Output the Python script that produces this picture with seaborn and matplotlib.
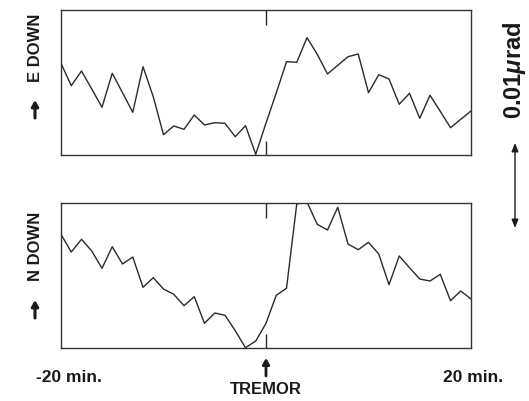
import matplotlib
matplotlib.use("Agg")
import matplotlib.pyplot as plt
from matplotlib.patches import FancyArrowPatch
import pandas as pd
import seaborn as sns

# minutes relative to the tremor, one reading per minute
minutes = list(range(-20, 21))

# tilt readings (arbitrary units)
e_down = [91.7, 69.3, 84.0, 66.0, 47.7, 81.7, 62.3, 42.7, 88.3, 58.3,
          20.3, 29.0, 25.7, 40.0, 30.0, 32.3, 31.7, 18.3, 29.3, 0.7,
          32.0, 62.0, 93.3, 92.7, 117.3, 100.7, 81.0, 89.7, 98.3, 101.0,
          62.3, 80.3, 76.0, 50.7, 61.7, 36.7, 59.7, 43.7, 27.3, 35.7, 44.0]
n_down = [113.7, 96.0, 108.7, 97.0, 79.7, 101.3, 84.0, 91.0, 60.7, 70.3,
          59.0, 53.7, 42.3, 51.3, 24.7, 35.0, 32.7, 17.3, 0.3, 7.0,
          24.7, 52.7, 59.7, 144.0, 146.0, 123.7, 118.0, 140.7, 104.0, 98.3,
          105.7, 94.0, 63.3, 92.0, 80.3, 69.0, 67.0, 73.7, 47.3, 57.0, 49.0]

panel_labels = ["E DOWN", "N DOWN"]
scale_label = r"0.01$\mathit{\mu}$rad"
x_labels = ["-20 min.", "TREMOR", "20 min."]

sns.set_style("white")
plt.rcParams["font.family"] = ["Liberation Sans", "DejaVu Sans"]
plt.rcParams["font.weight"] = "bold"
plt.rcParams["mathtext.fontset"] = "custom"
plt.rcParams["mathtext.rm"] = "Liberation Sans:bold"
plt.rcParams["mathtext.it"] = "Liberation Sans:italic:bold"

W, H = 529, 401
fig = plt.figure(figsize=(W / 100, H / 100), dpi=100)

df = pd.DataFrame({"minute": minutes, "E DOWN": e_down, "N DOWN": n_down})

ink = "#1a1a1a"
line_col = "#2a2a2a"
boxes = [(61, 10, 471, 155), (61, 203, 471, 348)]
for (x0, y0, x1, y1), col in zip(boxes, panel_labels):
    ax = fig.add_axes([x0 / W, 1 - y1 / H, (x1 - x0) / W, (y1 - y0) / H])
    sns.lineplot(data=df, x="minute", y=col, ax=ax, color=line_col,
                 linewidth=1.0)
    ax.set_xlim(-20, 20)
    ax.set_ylim(0, 145)
    ax.set_xticks([])
    ax.set_yticks([])
    ax.set_xlabel("")
    ax.set_ylabel("")
    for s in ax.spines.values():
        s.set_color("#333333")
        s.set_linewidth(1.0)
    # tremor marks on top and bottom edges
    tr = ax.get_xaxis_transform()
    ax.vlines(0, 0, 0.1, transform=tr, color=line_col, lw=1.0)
    ax.vlines(0, 0.9, 1, transform=tr, color=line_col, lw=1.0)


def fpx(x, y):
    return x / W, 1 - y / H


def arrow(p0, p1, style, lw):
    fig.patches.append(FancyArrowPatch(
        fpx(*p0), fpx(*p1), transform=fig.transFigure, arrowstyle=style,
        lw=lw, color=ink, shrinkA=0, shrinkB=0))


# left labels with small up arrows
for lab, ycen, ya, yb in [("E DOWN", 47.5, 100, 118), ("N DOWN", 246, 300, 318)]:
    fig.text(*fpx(35, ycen), lab, rotation=90, ha="center", va="center",
             fontsize=12, fontweight="bold", color=ink)
    arrow((35, yb), (35, ya), "-|>,head_length=3.5,head_width=2", 2.2)

# scale bar on the right
fig.text(*fpx(514, 70), scale_label, rotation=90, ha="center", va="center",
         fontsize=17, fontweight="bold", color=ink)
arrow((515, 143), (515, 228), "<|-|>,head_length=5,head_width=2", 1.0)

# bottom labels
fig.text(*fpx(69, 377), x_labels[0], ha="center", va="center",
         fontsize=12.5, fontweight="bold", color=ink)
fig.text(*fpx(473, 377), x_labels[2], ha="center", va="center",
         fontsize=12.5, fontweight="bold", color=ink)
fig.text(*fpx(266, 390), x_labels[1], ha="center", va="center",
         fontsize=12, fontweight="bold", color=ink)
arrow((266, 376), (266, 358), "-|>,head_length=3.5,head_width=2", 2.0)

fig.savefig("out.png", dpi=100)
